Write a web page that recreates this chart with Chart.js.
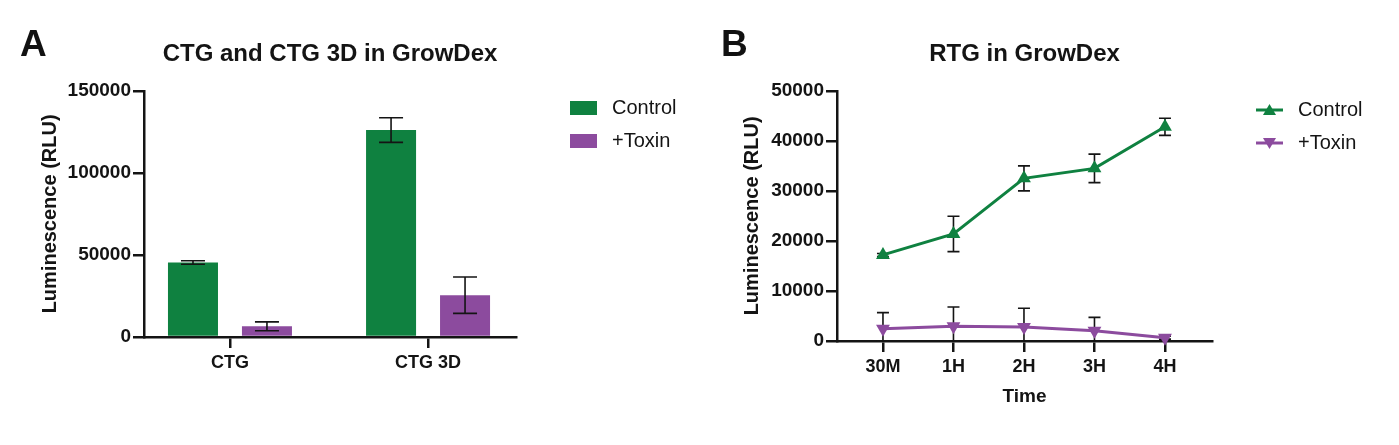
<!DOCTYPE html>
<html>
<head>
<meta charset="utf-8">
<title>GrowDex luminescence</title>
<script src="https://cdn.jsdelivr.net/npm/chart.js@4"></script>
<style>
  html, body { margin: 0; padding: 0; background: #fff; width: 1399px; height: 445px; overflow: hidden; }
  canvas { position: absolute; top: 0; }
  #chartA { left: 0; }
  #chartB { left: 700px; }
  .panel { position: absolute; top: 23px; font: bold 37px "Liberation Sans", Arial, sans-serif; color: #111; }
</style>
</head>
<body>
<canvas id="chartA" width="700" height="445"></canvas>
<canvas id="chartB" width="699" height="445"></canvas>
<div class="panel" style="left:20px">A</div>
<div class="panel" style="left:721px">B</div>
<script>
// ----- Data -----
const barCategories = ['CTG', 'CTG 3D'];
const barControl = [45400, 126100];
const barControlErr = [1100, 7500];
const barToxin = [6500, 25500];
const barToxinErr = [2700, 11100];

const timeCategories = ['30M', '1H', '2H', '3H', '4H'];
const lineControl = [17200, 21400, 32500, 34500, 42800];
const lineControlErr = [300, 3530, 2500, 2850, 1700];
const lineToxin = [2470, 2930, 2800, 2070, 670];
const lineToxinErr = [3200, 3870, 3730, 2660, 300];

const GREEN = '#0f8140';
const PURPLE = '#8c4b9e';
const INK = '#141414';
const FONT = '"Liberation Sans", Arial, sans-serif';

function toPoints(values) {
  return values.map(function (v, i) { return { x: i, y: v }; });
}

// Legend icons are small canvases so the line series get a line plus marker.
function legendIcon(color, kind) {
  const c = document.createElement('canvas');
  c.width = 32;
  c.height = 18;
  const g = c.getContext('2d');
  g.fillStyle = color;
  g.strokeStyle = color;
  if (kind === 'box') {
    g.fillRect(0, 2, 27, 14);
    return c;
  }
  g.lineWidth = 3;
  g.beginPath();
  g.moveTo(0, 9);
  g.lineTo(27, 9);
  g.stroke();
  g.beginPath();
  if (kind === 'up') {
    g.moveTo(13.5, 3); g.lineTo(20, 14); g.lineTo(7, 14);
  } else {
    g.moveTo(13.5, 15); g.lineTo(20, 4); g.lineTo(7, 4);
  }
  g.closePath();
  g.fill();
  return c;
}

// Black whiskers with caps, from each dataset's errors array.
function errorBarPlugin(capWidth, onTop) {
  function draw(chart) {
    const ctx = chart.ctx;
    const y = chart.scales.y;
    ctx.save();
    ctx.strokeStyle = INK;
    ctx.lineWidth = 1.6;
    chart.data.datasets.forEach(function (ds, d) {
      chart.getDatasetMeta(d).data.forEach(function (el, i) {
        const value = ds.data[i].y;
        const top = y.getPixelForValue(value + ds.errors[i]);
        const low = y.getPixelForValue(Math.max(0, value - ds.errors[i]));
        ctx.beginPath();
        ctx.moveTo(el.x, top);
        ctx.lineTo(el.x, low);
        ctx.moveTo(el.x - capWidth / 2, top);
        ctx.lineTo(el.x + capWidth / 2, top);
        ctx.moveTo(el.x - capWidth / 2, low);
        ctx.lineTo(el.x + capWidth / 2, low);
        ctx.stroke();
      });
    });
    ctx.restore();
  }
  return onTop
    ? { id: 'errorBars', afterDatasetsDraw: draw }
    : { id: 'errorBars', beforeDatasetsDraw: draw };
}

// Places the legend relative to the plot instead of against the canvas edge.
function legendShift(dx, top) {
  return {
    id: 'legendShift',
    afterLayout: function (chart) {
      chart.legend.left = chart.chartArea.right + dx;
      chart.legend.right = chart.width;
      chart.legend.top = top;
    }
  };
}

function baseOptions(o) {
  return {
    responsive: false,
    animation: false,
    layout: { padding: { left: o.padLeft, right: o.padRight, top: 0, bottom: 0 } },
    plugins: {
      title: {
        display: true,
        text: o.title,
        fullSize: false,
        color: INK,
        font: { family: FONT, size: 24, weight: 'bold' },
        padding: { top: 40, bottom: 22 }
      },
      tooltip: { enabled: false },
      legend: {
        position: 'right',
        align: 'start',
        maxWidth: 120,
        labels: {
          usePointStyle: true,
          pointStyleWidth: 32,
          boxHeight: 18,
          padding: 13,
          color: INK,
          font: { family: FONT, size: 20 },
          generateLabels: function () {
            return o.legend.map(function (item) {
              return { text: item.text, pointStyle: item.icon, fontColor: INK, lineWidth: 0 };
            });
          }
        }
      }
    },
    scales: {
      x: {
        type: 'linear',
        min: o.xMin,
        max: o.xMax,
        offset: false,
        afterBuildTicks: function (axis) {
          axis.ticks = o.categories.map(function (_, i) { return { value: i }; });
        },
        afterFit: function (axis) { axis.height = 445 - o.bottom; },
        border: { color: INK, width: 2.5 },
        grid: { drawOnChartArea: false, offset: false, color: INK, lineWidth: 2.5, tickLength: 11 },
        ticks: {
          color: INK,
          padding: 4,
          autoSkip: false,
          maxRotation: 0,
          font: { family: FONT, size: 18, weight: 'bold' },
          callback: function (v) { return o.categories[v]; }
        },
        title: o.xTitle ? {
          display: true,
          text: o.xTitle,
          color: INK,
          font: { family: FONT, size: 19, weight: 'bold' },
          padding: { top: 6, bottom: 37 }
        } : { display: false }
      },
      y: {
        min: 0,
        max: o.yMax,
        afterFit: function (axis) { axis.width = o.axisX - o.padLeft; },
        border: { color: INK, width: 2.5 },
        grid: { drawOnChartArea: false, color: INK, lineWidth: 2.5, tickLength: 11 },
        ticks: {
          stepSize: o.yStep,
          color: INK,
          padding: 2,
          font: { family: FONT, size: 19, weight: 'bold' },
          callback: function (v) { return String(v); }
        },
        title: {
          display: true,
          text: 'Luminescence (RLU)',
          color: INK,
          font: { family: FONT, size: 20, weight: 'bold' },
          padding: { top: 0, bottom: 0 }
        }
      }
    }
  };
}

new Chart(document.getElementById('chartA'), {
  type: 'bar',
  data: {
    datasets: [
      { label: 'Control', data: toPoints(barControl), errors: barControlErr, backgroundColor: GREEN, categoryPercentage: 0.747, barPercentage: 0.676 },
      { label: '+Toxin', data: toPoints(barToxin), errors: barToxinErr, backgroundColor: PURPLE, categoryPercentage: 0.747, barPercentage: 0.676 }
    ]
  },
  plugins: [errorBarPlugin(24, true), legendShift(41, 85)],
  options: baseOptions({
    title: 'CTG and CTG 3D in GrowDex',
    categories: barCategories,
    padLeft: 38, padRight: 64, axisX: 144, bottom: 337,
    xMin: -0.434, xMax: 1.444, yMax: 150000, yStep: 50000,
    legend: [
      { text: 'Control', icon: legendIcon(GREEN, 'box') },
      { text: '+Toxin', icon: legendIcon(PURPLE, 'box') }
    ]
  })
});

new Chart(document.getElementById('chartB'), {
  type: 'line',
  data: {
    datasets: [
      { label: 'Control', data: toPoints(lineControl), errors: lineControlErr, borderColor: GREEN, backgroundColor: GREEN, borderWidth: 3, tension: 0, clip: false, pointStyle: 'triangle', pointRadius: 8, pointBorderWidth: 0 },
      { label: '+Toxin', data: toPoints(lineToxin), errors: lineToxinErr, borderColor: PURPLE, backgroundColor: PURPLE, borderWidth: 3, tension: 0, clip: false, pointStyle: 'triangle', pointRotation: 180, pointRadius: 8, pointBorderWidth: 0 }
    ]
  },
  plugins: [errorBarPlugin(12, false), legendShift(31, 87)],
  options: baseOptions({
    title: 'RTG in GrowDex',
    categories: timeCategories,
    padLeft: 40, padRight: 67, axisX: 137, bottom: 341,
    xMin: -0.652, xMax: 4.667, yMax: 50000, yStep: 10000,
    xTitle: 'Time',
    legend: [
      { text: 'Control', icon: legendIcon(GREEN, 'up') },
      { text: '+Toxin', icon: legendIcon(PURPLE, 'down') }
    ]
  })
});
</script>
</body>
</html>
